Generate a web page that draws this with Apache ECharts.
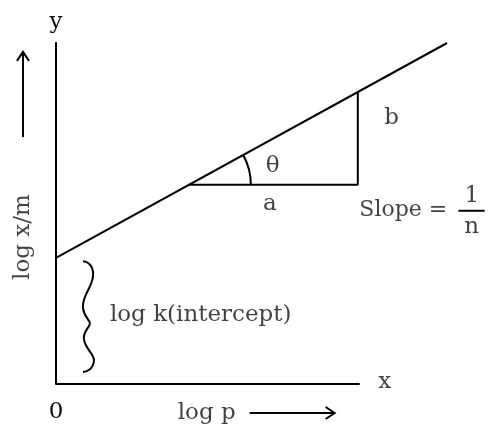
<!DOCTYPE html>
<html>
<head>
<meta charset="UTF-8">
<script src="https://cdn.jsdelivr.net/npm/echarts@6/dist/echarts.min.js"></script>
<style>
  body { margin: 0; background: #fff; }
  #chart { width: 488px; height: 425px; }
</style>
</head>
<body>
<div id="chart"></div>
<script>
// isotherm line (log x/m vs log p)
const isothermX = [0, 10.3];
const isothermY = [3.7, 10];
// drawn x axis (shorter than the plot width)
const baseX = [0, 8];
const baseY = [0, 0];
// slope triangle
const triX = [3.5, 7.95, 7.95];
const triY = [5.84, 5.84, 8.56];
// fraction bar of 1/n
const barX = [10.6, 11.29];
const barY = [5.08, 5.08];
// text labels
const labelText  = ['θ', 'a', 'b', 'log k(intercept)', 'Slope =', '1', 'n', 'log x/m', 'log p', 'x'];
const labelX     = [5.71, 5.63, 8.84, 1.42, 7.99, 10.95, 10.95, -0.87, 3.97, 8.66];
const labelY     = [6.39, 5.28, 7.8, 2.02, 5.1, 5.5, 4.6, 4.31, -0.85, 0.06];
const labelAlign = ['center', 'center', 'center', 'left', 'left', 'center', 'center', 'center', 'center', 'center'];
const labelRot   = [0, 0, 0, 0, 0, 0, 0, 90, 0, 0];
const labelSize  = [23, 23, 23, 23, 22, 23, 23, 23, 23, 23];
// arrows beside the axes: [x1, y1, x2, y2]
const upArrow = [-0.87, 7.24, -0.87, 9.74];
const rightArrow = [5.1, -0.85, 7.34, -0.85];
// brace ends
const braceTop = [0.71, 3.6];
const braceBottom = [0.71, 0.35];

const FONT = 'DejaVu Serif';
const FS = 23;
const INK = '#000';
const TEXT = '#111';

const chart = echarts.init(document.getElementById('chart'));

const labelData = labelText.map((t, i) => ({
  value: [labelX[i], labelY[i]],
  label: { formatter: t, align: labelAlign[i], rotate: labelRot[i], fontSize: labelSize[i] }
}));

chart.setOption({
  animation: false,
  backgroundColor: '#fff',
  grid: { left: 56, top: 43, width: 429.4, height: 341 },
  xAxis: {
    type: 'value', min: 0, max: 11.3,
    axisLine: { show: false },
    axisTick: { show: false },
    splitLine: { show: false },
    axisLabel: { formatter: v => v === 0 ? '0' : '', margin: 17, color: TEXT, fontFamily: FONT, fontSize: FS }
  },
  yAxis: {
    type: 'value', min: 0, max: 10,
    axisLine: { lineStyle: { color: INK, width: 2 } },
    axisTick: { show: false },
    splitLine: { show: false },
    axisLabel: { show: false },
    name: 'y', nameLocation: 'end', nameGap: 9,
    nameTextStyle: { color: TEXT, fontFamily: FONT, fontSize: FS, align: 'center' }
  },
  series: [
    {
      type: 'line', clip: false, symbol: 'none',
      data: isothermX.map((x, i) => [x, isothermY[i]]),
      lineStyle: { color: INK, width: 2 }
    },
    {
      type: 'line', clip: false, symbol: 'none',
      data: baseX.map((x, i) => [x, baseY[i]]),
      lineStyle: { color: INK, width: 2 }
    },
    {
      type: 'line', clip: false, symbol: 'none',
      data: triX.map((x, i) => [x, triY[i]]),
      lineStyle: { color: INK, width: 2 }
    },
    {
      type: 'line', clip: false, symbol: 'none',
      data: barX.map((x, i) => [x, barY[i]]),
      lineStyle: { color: INK, width: 2 }
    },
    {
      type: 'scatter', clip: false, symbolSize: 0,
      data: labelData,
      label: {
        show: true, position: 'inside', color: TEXT,
        fontFamily: FONT, fontSize: FS, verticalAlign: 'middle'
      }
    }
  ]
});

// arrows, angle arc and brace, placed from data coordinates
function px(p) { return chart.convertToPixel({ gridIndex: 0 }, p); }
const stroke = { stroke: INK, lineWidth: 2, fill: null };
const g = [];

function arrow(a, dir) {
  const p1 = px([a[0], a[1]]), p2 = px([a[2], a[3]]);
  g.push({ type: 'line', shape: { x1: p1[0], y1: p1[1], x2: p2[0], y2: p2[1] }, style: stroke });
  const head = dir === 'up'
    ? [[p2[0] - 6, p2[1] + 9], [p2[0], p2[1]], [p2[0] + 6, p2[1] + 9]]
    : [[p2[0] - 9, p2[1] - 6], [p2[0], p2[1]], [p2[0] - 9, p2[1] + 6]];
  g.push({ type: 'polyline', shape: { points: head }, style: stroke });
}
arrow(upArrow, 'up');
arrow(rightArrow, 'right');

// angle arc at the left corner of the triangle
const v = px([triX[0], triY[0]]);
const e = px([triX[2], triY[2]]);
const ang = Math.atan2(v[1] - e[1], e[0] - v[0]);
g.push({ type: 'arc', shape: { cx: v[0], cy: v[1], r: 62, startAngle: -ang, endAngle: 0 }, style: stroke });

// wavy brace beside the intercept, as bezier pieces (local units, height 111)
const bt = px(braceTop), bb = px(braceBottom);
const s = (bb[1] - bt[1]) / 111;
const bracePieces = [
  [0, 0, 9, 1, 12, 10, 9, 20],
  [9, 20, 6, 30, -1, 36, 0, 47],
  [0, 47, 1, 56, 7, 59, 7, 62],
  [7, 62, 7, 66, 0, 70, 1, 78],
  [1, 78, 2, 88, 12, 93, 11, 100],
  [11, 100, 10, 108, 4, 111, 0, 111]
];
bracePieces.forEach(b => {
  g.push({
    type: 'bezierCurve',
    shape: {
      x1: bt[0] + b[0], y1: bt[1] + b[1] * s,
      cpx1: bt[0] + b[2], cpy1: bt[1] + b[3] * s,
      cpx2: bt[0] + b[4], cpy2: bt[1] + b[5] * s,
      x2: bt[0] + b[6], y2: bt[1] + b[7] * s
    },
    style: stroke
  });
});

chart.setOption({ graphic: g });
</script>
</body>
</html>
